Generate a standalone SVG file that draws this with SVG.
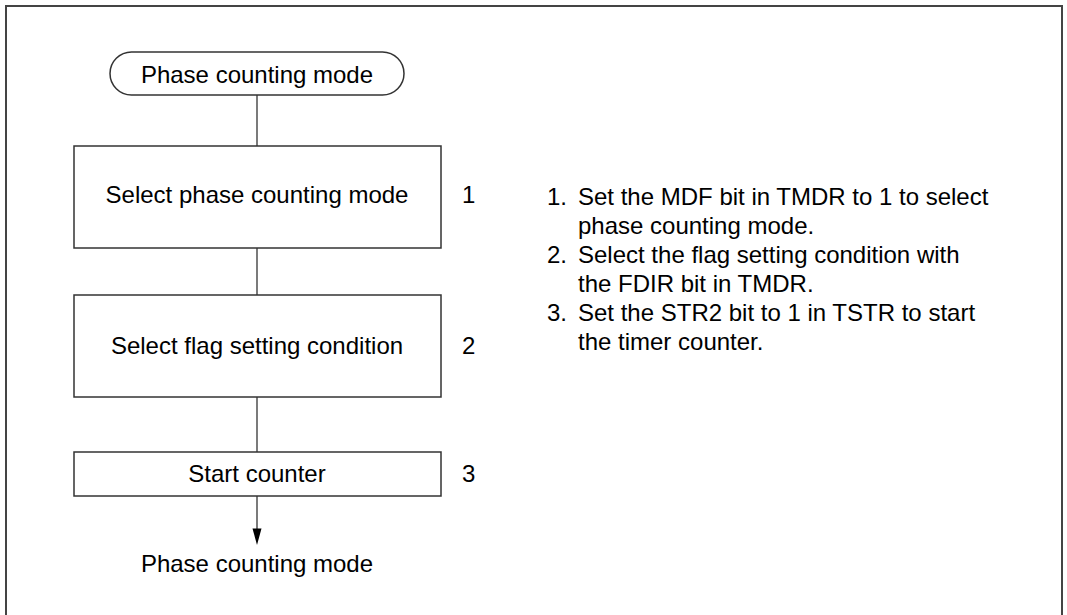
<svg xmlns="http://www.w3.org/2000/svg" width="1067" height="615" viewBox="0 0 1067 615">
<style>
text{font-family:"Liberation Sans",Arial,sans-serif;font-size:24px;fill:#000}
.c{text-anchor:middle}
.box{fill:#fff;stroke:#333;stroke-width:1.5}
.ln{stroke:#222;stroke-width:1.2;fill:none}
</style>
<defs>
<marker id="ah" markerWidth="9" markerHeight="16" refX="4.5" refY="16" orient="auto-start-reverse" markerUnits="userSpaceOnUse" viewBox="0 0 9 16">
<path d="M0,0 L9,0 L4.5,16 Z" fill="#000"/>
</marker>
</defs>
<path d="M6,620 V6 H1062 V620" fill="none" stroke="#444" stroke-width="2"/>
<g id="connectors">
<line class="ln" x1="257" y1="95" x2="257" y2="146"/>
<line class="ln" x1="257" y1="248" x2="257" y2="295"/>
<line class="ln" x1="257" y1="397" x2="257" y2="452"/>
<line class="ln" x1="257" y1="496" x2="257" y2="529"/>
<path d="M252.5,528.5 L261.5,528.5 L257,545 Z" fill="#000"/>
</g>
<g id="start">
<rect class="box" x="110" y="52" width="294" height="43" rx="21.5"/>
<text class="c" x="257" y="83">Phase counting mode</text>
</g>
<g id="step1">
<rect class="box" x="74" y="146" width="367" height="102"/>
<text class="c" x="257" y="203">Select phase counting mode</text>
<text x="462" y="203">1</text>
</g>
<g id="step2">
<rect class="box" x="74" y="295" width="367" height="102"/>
<text class="c" x="257" y="354">Select flag setting condition</text>
<text x="462" y="354">2</text>
</g>
<g id="step3">
<rect class="box" x="74" y="452" width="367" height="44"/>
<text class="c" x="257" y="482">Start counter</text>
<text x="462" y="482">3</text>
</g>
<g id="end">
<text class="c" x="257" y="572">Phase counting mode</text>
</g>
<g id="notes">
<text x="547" y="204.5">1.</text>
<text x="578" y="204.5">Set the MDF bit in TMDR to 1 to select</text>
<text x="578" y="233.6">phase counting mode.</text>
<text x="547" y="262.7">2.</text>
<text x="578" y="262.7">Select the flag setting condition with</text>
<text x="578" y="291.8">the FDIR bit in TMDR.</text>
<text x="547" y="320.9">3.</text>
<text x="578" y="320.9">Set the STR2 bit to 1 in TSTR to start</text>
<text x="578" y="350">the timer counter.</text>
</g>
</svg>
